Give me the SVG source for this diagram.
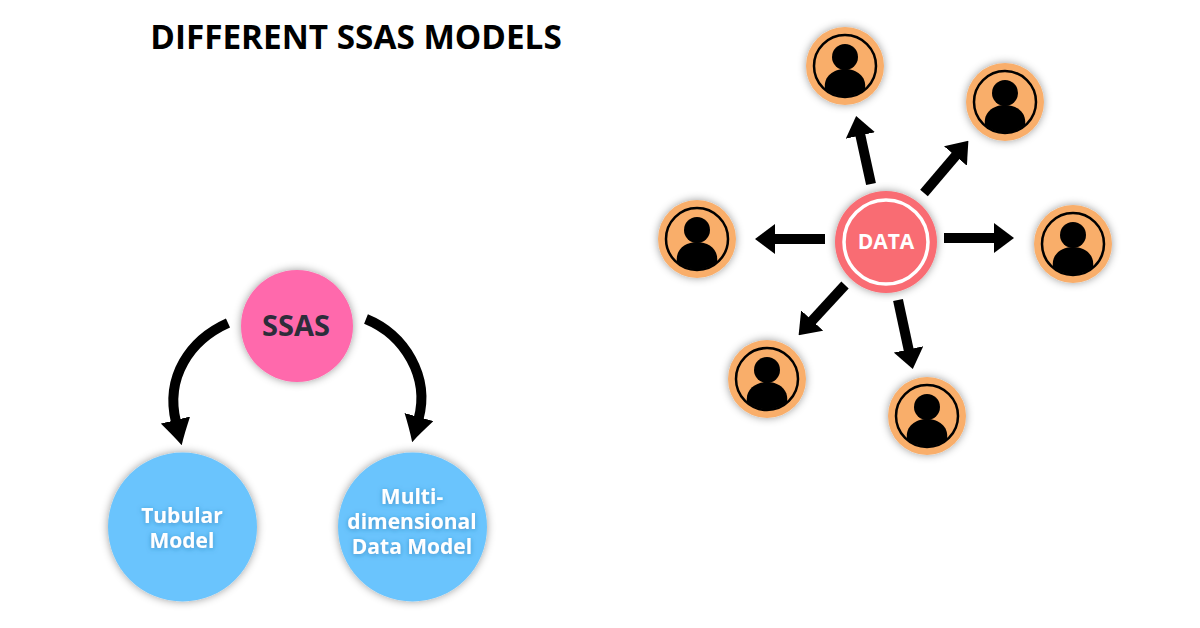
<svg xmlns="http://www.w3.org/2000/svg" width="1200" height="628" viewBox="0 0 1200 628">
<style>
text{font-family:"Open Sans","Liberation Sans",sans-serif;font-weight:700;text-anchor:middle}
.title{font-size:33.3px;fill:#000}
.lbl{font-size:21px;fill:#fff;filter:url(#glow)}
.conn{fill:none;stroke:#000;stroke-width:10;marker-end:url(#head)}
.conn2{fill:none;stroke:#000;stroke-width:10;marker-end:url(#headL)}
.sh{filter:url(#shadow)}
</style>
<defs>
<filter id="shadow" x="-30%" y="-30%" width="160%" height="160%"><feDropShadow dx="0" dy="0" stdDeviation="4" flood-color="#000" flood-opacity=".4"/></filter>
<filter id="glow" x="-20%" y="-30%" width="140%" height="160%"><feDropShadow dx="0" dy="1" stdDeviation="2.5" flood-color="#1f6aa0" flood-opacity=".55"/></filter>
<marker id="head" markerUnits="userSpaceOnUse" viewBox="0 0 20 30" refX="1" refY="15" markerWidth="20" markerHeight="30" orient="auto"><path d="M0,0L20,15L0,30Z" fill="#000"/></marker>
<marker id="headL" markerUnits="userSpaceOnUse" viewBox="0 0 26 30" refX="2" refY="15" markerWidth="26" markerHeight="30" orient="auto"><path d="M0,0C8,5 18,11 26,15C18,19 8,25 0,30Z" fill="#000"/></marker>
<g id="user">
<circle r="39" fill="#f9ae6b" class="sh"/>
<circle r="31" fill="none" stroke="#000" stroke-width="2.5"/>
<circle cy="-9" r="13" fill="#000"/>
<path d="M-20,23C-22,10 -11,3 0,3C11,3 22,10 20,23A31,31 0 0 1 -20,23Z" fill="#000"/>
</g>
</defs>
<rect width="1200" height="628" fill="#fff"/>
<text class="title" x="356" y="49">DIFFERENT SSAS MODELS</text>
<g id="connectors">
<path class="conn2" d="M228,323C190,340 165,377 176,422"/>
<path class="conn2" d="M366,319C405,335 430,377 418.5,419"/>
<path class="conn" d="M871,184L860.2,134.5"/>
<path class="conn" d="M924,193L956.1,155.2"/>
<path class="conn" d="M825,239L774,239"/>
<path class="conn" d="M944,238L995,238"/>
<path class="conn" d="M845,285L811.5,321.3"/>
<path class="conn" d="M898,300L908.8,350.4"/>
</g>
<g id="ssas"><circle class="sh" cx="297" cy="326" r="56" fill="#ff69ac"/><text x="296" y="336" font-size="29" fill="#2d2d3a">SSAS</text></g>
<g id="tubular"><circle class="sh" cx="182.5" cy="527" r="74.5" fill="#6bc4fd"/><text class="lbl" y="523"><tspan x="182">Tubular</tspan><tspan x="182" dy="25">Model</tspan></text></g>
<g id="multi"><circle class="sh" cx="412.5" cy="527" r="74.5" fill="#6bc4fd"/><text class="lbl" y="504"><tspan x="412">Multi-</tspan><tspan x="412" dy="25">dimensional</tspan><tspan x="412" dy="25">Data Model</tspan></text></g>
<g id="data"><circle class="sh" cx="886" cy="242" r="51" fill="#f96c73"/><circle cx="886" cy="242" r="42" fill="none" stroke="#fff" stroke-width="3.5"/><text x="886" y="249" font-size="21" fill="#fff">DATA</text></g>
<g id="user1"><use href="#user" x="845" y="66"/></g>
<g id="user2"><use href="#user" x="1005" y="102"/></g>
<g id="user3"><use href="#user" x="1073" y="244"/></g>
<g id="user4"><use href="#user" x="697" y="239"/></g>
<g id="user5"><use href="#user" x="767" y="379"/></g>
<g id="user6"><use href="#user" x="927" y="416"/></g>
</svg>
